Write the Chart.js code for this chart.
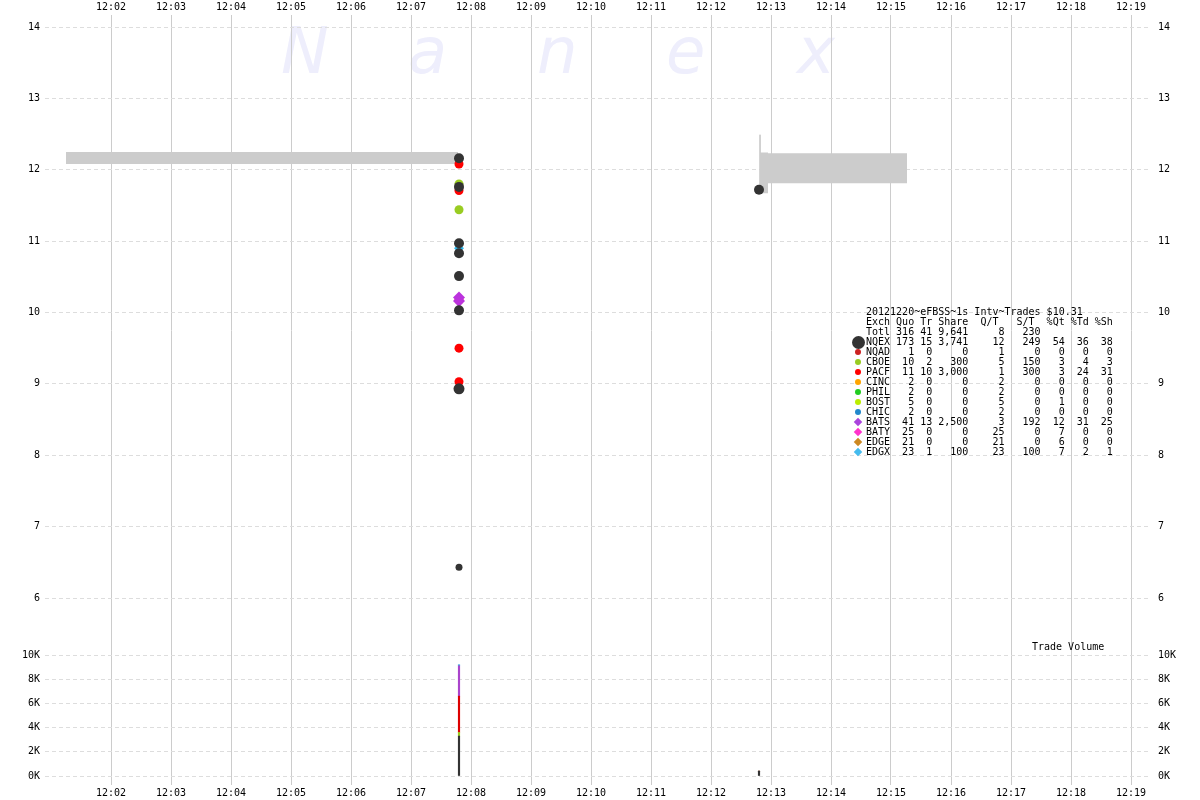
<!DOCTYPE html>
<html>
<head>
<meta charset="utf-8">
<script src="https://cdn.jsdelivr.net/npm/chart.js@4.4.1/dist/chart.umd.min.js"></script>
<style>
  body { margin: 0; background: #fff; }
  #wrap { position: relative; width: 1200px; height: 800px; background: #fff; overflow: hidden; }
  #priceChart { position: absolute; left: 0; top: 0; }
  #volChart { position: absolute; left: 0; top: 630px; }
  .mono { font-family: "DejaVu Sans Mono", monospace; font-size: 10px; line-height: 10px; color: #000; }
  #table { position: absolute; left: 866px; top: 307px; margin: 0; white-space: pre; }
  #volLabel { position: absolute; left: 1032px; top: 642px; white-space: pre; }
  .mk { position: absolute; }
</style>
</head>
<body>
<div id="wrap">
  <canvas id="priceChart" width="1200" height="660"></canvas>
  <canvas id="volChart" width="1200" height="170"></canvas>
  <pre id="table" class="mono"></pre>
  <div id="volLabel" class="mono">Trade Volume</div>
</div>
<script>
// time axis in seconds after 12:00
const minuteTicks = [2, 3, 4, 5, 6, 7, 8, 9, 10, 11, 12, 13, 14, 15, 16, 17, 18, 19];
const priceTicks = [6, 7, 8, 9, 10, 11, 12, 13, 14];
const volTicks = [0, 2000, 4000, 6000, 8000, 10000];

// trades (time in s, price)
const nqexTime = [468, 468, 468, 468, 468, 468, 468, 468, 768];
const nqexPrice = [12.16, 11.76, 10.97, 10.83, 10.51, 10.03, 8.93, 6.43, 11.72];
const pacfTime = [468, 468, 468, 468, 468];
const pacfPrice = [12.08, 11.71, 10.17, 9.50, 9.03];
const cboeTime = [468, 468];
const cboePrice = [11.80, 11.44];
const batsTime = [468, 468];
const batsPrice = [10.21, 10.16];
const edgxTime = [468];
const edgxPrice = [10.90];

// best bid/ask band
const bandLeftTime = [75, 467];
const bandLeftAsk = [12.25, 12.25];
const bandLeftBid = [12.08, 12.08];
const bandRightTime = [769, 777, 777, 916];
const bandRightAsk = [12.24, 12.24, 12.23, 12.23];
const bandRightBid = [11.67, 11.67, 11.81, 11.81];
const spikeTime = [769, 769];
const spikePrice = [12.49, 11.70];

// trade volume per exchange
const volTime = [468, 768];
const nqexVol = [3300, 400];
const cboeVol = [300, 0];
const pacfVol = [3000, 0];
const batsVol = [2500, 0];
const edgxVol = [100, 0];

// summary table
const exchanges = ['NQEX', 'NQAD', 'CBOE', 'PACF', 'CINC', 'PHIL', 'BOST', 'CHIC', 'BATS', 'BATY', 'EDGE', 'EDGX'];
const quotes   = [173, 1, 10, 11, 2, 2, 5, 2, 41, 25, 21, 23];
const trades   = [15, 0, 2, 10, 0, 0, 0, 0, 13, 0, 0, 1];
const shares   = [3741, 0, 300, 3000, 0, 0, 0, 0, 2500, 0, 0, 100];
const quotePerTrade = [12, 1, 5, 1, 2, 2, 5, 2, 3, 25, 21, 23];
const sharePerTrade = [249, 0, 150, 300, 0, 0, 0, 0, 192, 0, 0, 100];
const pctQuotes = [54, 0, 3, 3, 0, 0, 1, 0, 12, 7, 6, 7];
const pctTrades = [36, 0, 4, 24, 0, 0, 0, 0, 31, 0, 0, 2];
const pctShares = [38, 0, 3, 31, 0, 0, 0, 0, 25, 0, 0, 1];
const totals = [316, 41, 9641, 8, 230];

const exchColors = ['#333333', '#cc2222', '#99cc22', '#ff0000', '#ffa500', '#22cc22', '#bbee00', '#2288cc', '#aa44dd', '#ff33cc', '#cc8822', '#44bbee'];

Chart.defaults.font.family = '"DejaVu Sans Mono", monospace';
Chart.defaults.font.size = 10;
Chart.defaults.color = '#000';
Chart.defaults.animation = false;

const pts = (xs, ys) => xs.map((x, i) => ({ x: x, y: ys[i] }));
const fmtMin = v => '12:' + String(Math.round(v / 60)).padStart(2, '0');

const X_MIN = 54, X_MAX = 1159;

const watermark = {
  id: 'watermark',
  beforeDraw(chart) {
    const ctx = chart.ctx;
    ctx.save();
    ctx.font = 'italic 64px "DejaVu Sans"';
    ctx.fillStyle = '#eeeefc';
    ctx.textBaseline = 'alphabetic';
    const letters = ['N', 'a', 'n', 'e', 'x'];
    const lx = [281, 408, 537, 666, 797];
    letters.forEach((l, i) => ctx.fillText(l, lx[i], 73));
    ctx.restore();
  }
};

function xAxis(pos, h) {
  return {
    type: 'linear', position: pos, min: X_MIN, max: X_MAX, offset: false,
    afterBuildTicks: s => { s.ticks = minuteTicks.map(m => ({ value: m * 60 })); },
    afterFit: s => { s.height = h; },
    ticks: { callback: v => fmtMin(v), padding: 2, maxRotation: 0, autoSkip: false },
    grid: { color: '#cccccc', lineWidth: 1, drawTicks: false, offset: false },
    border: { display: false }
  };
}

function yAxis(pos, list, fmt, w, pad, onChart) {
  return {
    type: 'linear', position: pos, min: 0, max: 1,
    afterBuildTicks: s => { s.ticks = list.map(v => ({ value: v })); },
    afterFit: s => { s.width = w; },
    ticks: { callback: fmt, padding: pad, autoSkip: false },
    grid: { display: onChart, color: '#dddddd', drawTicks: false },
    border: { display: false, dash: [4, 3] }
  };
}

// place tick values at given canvas pixels, using the real chart area
function fitY(chart, topVal, topPx, botVal, botPx) {
  const a = chart.chartArea;
  const vpp = (topVal - botVal) / (botPx - topPx);
  const max = topVal + (topPx - a.top) * vpp;
  const min = botVal - (a.bottom - botPx) * vpp;
  ['y', 'yr'].forEach(id => {
    chart.options.scales[id].min = min;
    chart.options.scales[id].max = max;
  });
  chart.update();
}

const priceChart = new Chart(document.getElementById('priceChart'), {
  type: 'scatter',
  data: {
    datasets: [
      { label: 'NQEX', data: pts(nqexTime, nqexPrice), backgroundColor: '#333333', borderWidth: 0,
        pointRadius: [5, 5, 5, 5, 5, 5, 5.5, 3.5, 5], order: 0 },
      { label: 'BATS', data: pts(batsTime, batsPrice), backgroundColor: '#bb33dd', borderWidth: 0,
        pointStyle: 'rectRot', pointRadius: 6, order: 1 },
      { label: 'EDGX', data: pts(edgxTime, edgxPrice), backgroundColor: '#33bbee', borderWidth: 0,
        pointStyle: 'rectRot', pointRadius: 5, order: 2 },
      { label: 'CBOE', data: pts(cboeTime, cboePrice), backgroundColor: '#99cc22', borderWidth: 0,
        pointRadius: 4.5, order: 3 },
      { label: 'PACF', data: pts(pacfTime, pacfPrice), backgroundColor: '#ff0000', borderWidth: 0,
        pointRadius: 4.5, order: 4 },
      { type: 'line', label: 'askL', data: pts(bandLeftTime, bandLeftAsk), borderWidth: 0, pointRadius: 0,
        borderColor: 'rgba(0,0,0,0)', fill: false, order: 10 },
      { type: 'line', label: 'bidL', data: pts(bandLeftTime, bandLeftBid), borderWidth: 0, pointRadius: 0,
        borderColor: 'rgba(0,0,0,0)', backgroundColor: '#cccccc', fill: '-1', order: 11 },
      { type: 'line', label: 'askR', data: pts(bandRightTime, bandRightAsk), borderWidth: 0, pointRadius: 0,
        borderColor: 'rgba(0,0,0,0)', fill: false, order: 12 },
      { type: 'line', label: 'bidR', data: pts(bandRightTime, bandRightBid), borderWidth: 0, pointRadius: 0,
        borderColor: 'rgba(0,0,0,0)', backgroundColor: '#cccccc', fill: '-1', order: 13 },
      { type: 'line', label: 'spike', data: pts(spikeTime, spikePrice), borderWidth: 1, pointRadius: 0,
        borderColor: '#cccccc', fill: false, order: 14 }
    ]
  },
  options: {
    responsive: false,
    layout: { padding: 0 },
    plugins: { legend: { display: false }, tooltip: { enabled: false } },
    scales: {
      x: xAxis('top', 15),
      y: yAxis('left', priceTicks, v => String(v), 45, 5, true),
      yr: yAxis('right', priceTicks, v => String(v), 50, 8, false)
    }
  },
  plugins: [watermark]
});
// 14 at y=27, 6 at y=598
fitY(priceChart, 14, 27, 6, 598);

const volSet = (label, vals, color) => ({
  label: label, data: pts(volTime, vals), backgroundColor: color,
  barThickness: 1.5, borderWidth: 0
});

const volChart = new Chart(document.getElementById('volChart'), {
  type: 'bar',
  data: {
    datasets: [
      volSet('NQEX', nqexVol, '#333333'),
      volSet('CBOE', cboeVol, '#99cc22'),
      volSet('PACF', pacfVol, '#dd0000'),
      volSet('BATS', batsVol, '#aa44cc'),
      volSet('EDGX', edgxVol, '#44aadd')
    ]
  },
  options: {
    responsive: false,
    layout: { padding: 0 },
    plugins: { legend: { display: false }, tooltip: { enabled: false } },
    scales: {
      x: Object.assign(xAxis('bottom', 15), { stacked: true }),
      y: Object.assign(yAxis('left', volTicks, v => (v / 1000) + 'K', 45, 5, true), { stacked: true }),
      yr: yAxis('right', volTicks, v => (v / 1000) + 'K', 50, 8, false)
    }
  }
});
// canvas starts at 630: 10K at y=655, 0K at y=776
fitY(volChart, 10000, 655 - 630, 0, 776 - 630);

// summary table
const comma = n => n.toLocaleString('en-US');
const lines = [];
lines.push('20121220~eFBSS~1s Intv~Trades $10.31');
lines.push('Exch Quo Tr Share  Q/T   S/T  %Qt %Td %Sh');
lines.push('Totl' + String(totals[0]).padStart(4) + String(totals[1]).padStart(3) + comma(totals[2]).padStart(6) +
  String(totals[3]).padStart(6) + String(totals[4]).padStart(6));
exchanges.forEach((ex, i) => {
  lines.push(ex.padEnd(4) + String(quotes[i]).padStart(4) + String(trades[i]).padStart(3) +
    comma(shares[i]).padStart(6) + String(quotePerTrade[i]).padStart(6) + String(sharePerTrade[i]).padStart(6) +
    String(pctQuotes[i]).padStart(4) + String(pctTrades[i]).padStart(4) + String(pctShares[i]).padStart(4));
});
document.getElementById('table').textContent = lines.join('\n');

// table markers
const wrap = document.getElementById('wrap');
exchanges.forEach((ex, i) => {
  const cy = 342 + i * 10;
  const m = document.createElement('div');
  m.className = 'mk';
  const diamond = i >= 8;
  const d = i === 0 ? 13 : 6;
  m.style.width = d + 'px';
  m.style.height = d + 'px';
  m.style.left = (858 - d / 2) + 'px';
  m.style.top = (cy - d / 2) + 'px';
  m.style.background = exchColors[i];
  if (diamond) m.style.transform = 'rotate(45deg)';
  else m.style.borderRadius = '50%';
  wrap.appendChild(m);
});
</script>
</body>
</html>
